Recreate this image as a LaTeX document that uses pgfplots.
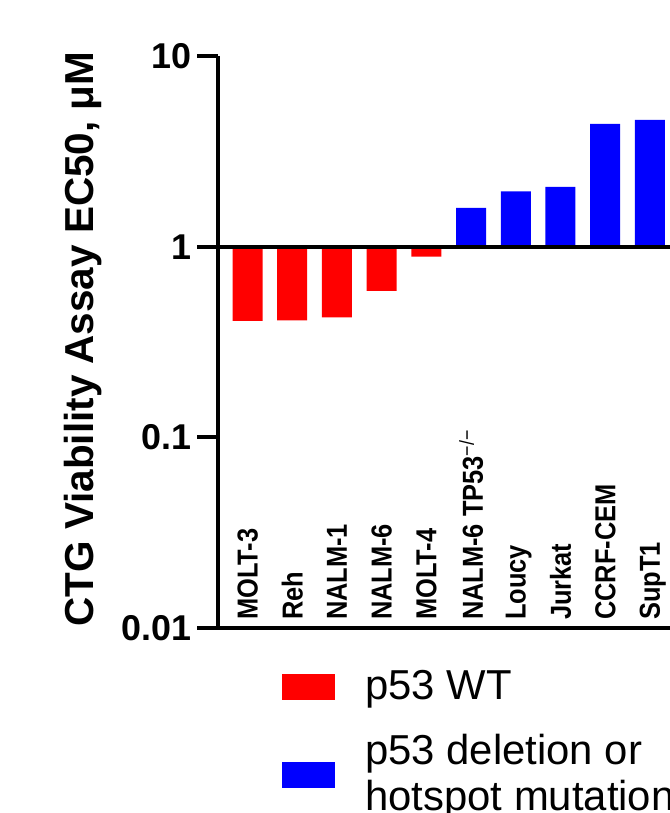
\documentclass[border=0pt]{standalone}
\usepackage{pgfplots}
\pgfplotsset{compat=1.18}
\usepackage{fontspec}
\setmainfont{Liberation Sans}
\newfontfamily\condfont[FakeStretch=0.88]{Liberation Sans}
\begin{document}
\begin{tikzpicture}
\begin{axis}[
  at={(218bp,185bp)}, anchor=south west,
  scale only axis, width=452bp, height=572bp,
  ymode=log, ymin=0.01, ymax=10,
  xmin=-0.66, xmax=9.45,
  axis x line*=bottom, axis y line*=left,
  axis line style={line width=4bp, black},
  xtick=\empty,
  ytick={0.01,0.1,1,10}, yticklabels={0.01,0.1,1,10},
  yminorticks=false,
  tick align=outside, major tick length=21bp,
  major tick style={line width=4bp, black},
  yticklabel style={font=\bfseries\fontsize{36}{36}\selectfont, xshift=-2bp},
  ylabel={CTG Viability Assay EC50, μM},
  ylabel style={at={(axis description cs:-0.299,0.505)}, anchor=center,
    font=\bfseries\fontsize{40.6}{41}\selectfont},
  legend style={at={(axis description cs:0.1416,-0.0727)}, anchor=north west,
    draw=none, fill=none, inner sep=0pt, row sep=34bp, column sep=30bp,
    font=\fontsize{42}{46}\selectfont, nodes={inner sep=0pt},
    cells={align=left, anchor=west}},
  legend image code/.code={\fill (0bp,-15bp) rectangle (53bp,11bp);},
]
\addplot[ybar, bar width=30bp, fill=red, draw=none]
  coordinates {(0,0.408) (1,0.411) (2,0.426) (3,0.586) (4,0.886)};
\addplot[ybar, bar width=30bp, fill=blue, draw=none]
  coordinates {(5,1.60) (6,1.95) (7,2.06) (8,4.40) (9,4.62)};
\addplot[line width=4bp, black, forget plot] coordinates {(-0.66,1) (9.45,1)};
\legend{p53 WT, {p53 deletion or\\hotspot mutation}}
\begin{scope}[every node/.style={rotate=90, anchor=west, inner sep=0pt, text depth=0pt,
    font=\condfont\fontsize{29}{29}\selectfont\bfseries}]
\node at (axis cs:0,0.0110) {MOLT-3};
\node at (axis cs:1,0.0110) {Reh};
\node at (axis cs:2,0.0110) {NALM-1};
\node at (axis cs:3,0.0110) {NALM-6};
\node at (axis cs:4,0.0110) {MOLT-4};
\node at (axis cs:5,0.0110) {NALM-6 TP53\textsuperscript{\mdseries −/−}};
\node at (axis cs:6,0.0110) {Loucy};
\node at (axis cs:7,0.0110) {Jurkat};
\node at (axis cs:8,0.0110) {CCRF-CEM};
\node at (axis cs:9,0.0110) {SupT1};
\end{scope}
\end{axis}
\pgfresetboundingbox
\path[use as bounding box] (0,0) rectangle (670bp,813bp);
\end{tikzpicture}
\end{document}
